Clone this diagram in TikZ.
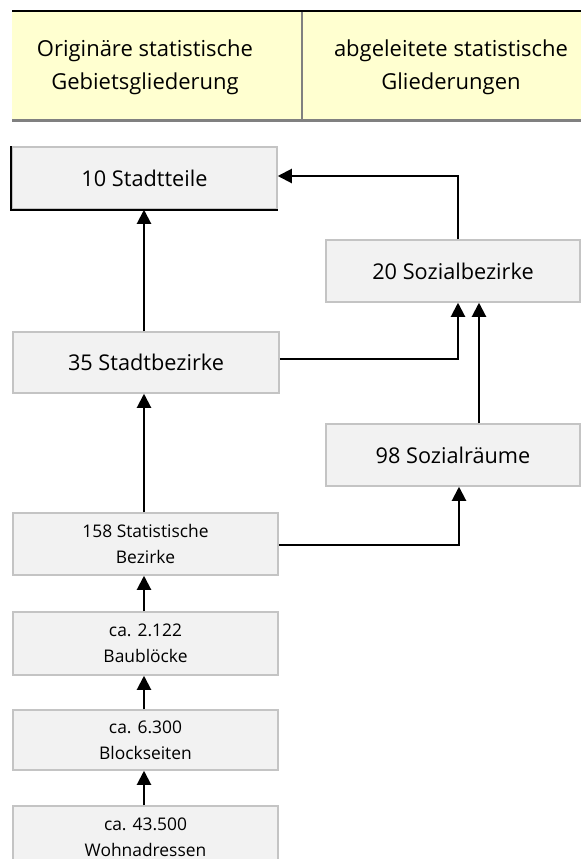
\documentclass[tikz,border=0pt]{standalone}
\usepackage{fontspec}
\setmainfont{Open Sans}
\usetikzlibrary{arrows.meta}
\definecolor{headyellow}{RGB}{255,255,208}
\definecolor{boxfill}{RGB}{242,242,242}
\definecolor{boxline}{RGB}{196,196,196}
\definecolor{headgray}{RGB}{128,128,128}
\tikzset{
  box/.style={draw=boxline, fill=boxfill, line width=1.5pt, rectangle, inner sep=0pt, align=center},
  bigtxt/.style={font=\fontsize{21.7}{30}\selectfont},
  smalltxt/.style={font=\fontsize{17.4}{26}\selectfont},
  headtxt/.style={font=\fontsize{22}{33}\selectfont, align=center},
  arr/.style={line width=2pt, -{Triangle[length=14pt,width=14pt]}},
  con/.style={line width=2pt}
}
\begin{document}
\begin{tikzpicture}[x=1pt,y=-1pt]
\useasboundingbox (0,0) rectangle (581,859);
\fill[white] (0,0) rectangle (581,859);
% header
\fill[headyellow] (12,12) rectangle (581,120);
\draw[line width=2.5pt] (12,11) -- (581,11);
\draw[headgray, line width=3pt] (12,120.5) -- (581,120.5);
\draw[headgray, line width=2.5pt] (302,12) -- (302,119);
\node[headtxt] (h1) at (145,67) {Originäre statistische\\Gebietsgliederung};
\node[headtxt] (h2) at (451,67) {abgeleitete statistische\\Gliederungen};
% boxes
\node[box, bigtxt, minimum width=265, minimum height=62] (st) at (144.5,178) {10 Stadtteile};
\draw[line width=2.2pt] (st.north west) -- (st.south west) -- (st.south east);
\node[box, bigtxt, minimum width=254, minimum height=62] (soz) at (453,271) {20 Sozialbezirke};
\node[box, bigtxt, minimum width=266, minimum height=61] (sbz) at (146,362.5) {35 Stadtbezirke};
\node[box, bigtxt, minimum width=254, minimum height=62] (sr) at (453,455) {98 Sozialräume};
\node[box, smalltxt, minimum width=265, minimum height=62] (stat) at (145.5,544) {158 Statistische\\Bezirke};
\node[box, smalltxt, minimum width=265, minimum height=63] (bb) at (145.5,643.5) {ca. 2.122\\Baublöcke};
\node[box, smalltxt, minimum width=265, minimum height=60] (bs) at (145.5,740) {ca. 6.300\\Blockseiten};
\node[box, smalltxt, minimum width=265, minimum height=62] (wa) at (145.5,837) {ca. 43.500\\Wohnadressen};
% connectors
\draw[arr] (sbz.north -| 144,0) -- (st.south -| 144,0);
\draw[arr] (stat.north -| 144,0) -- (sbz.south -| 144,0);
\draw[arr] (bb.north -| 144,0) -- (stat.south -| 144,0);
\draw[arr] (bs.north -| 144,0) -- (bb.south -| 144,0);
\draw[arr] (wa.north -| 144,0) -- (bs.south -| 144,0);
\draw[arr] ([xshift=5pt]soz.north) |- ([yshift=2pt]st.east);
\draw[arr] ([yshift=4pt]sbz.east) -| ([xshift=5pt]soz.south);
\draw[arr] ([xshift=26pt]sr.north) -- ([xshift=26pt]soz.south);
\draw[arr] ([yshift=-1pt]stat.east) -| ([xshift=6pt]sr.south);
\end{tikzpicture}
\end{document}
